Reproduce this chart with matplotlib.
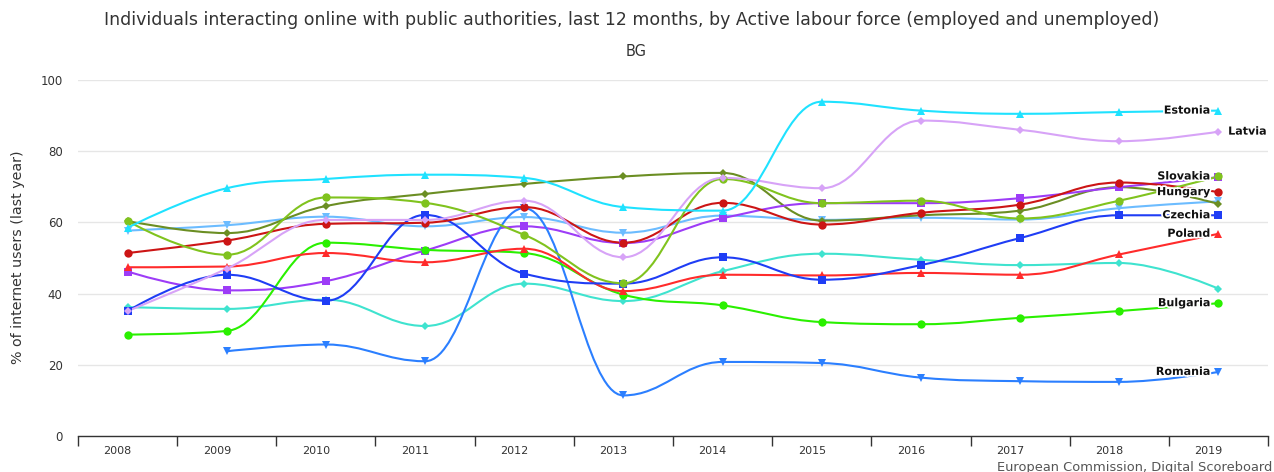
import matplotlib
matplotlib.use("Agg")
import matplotlib.pyplot as plt
import matplotlib.transforms as mtransforms
import matplotlib.patheffects as pe
from matplotlib.path import Path
from matplotlib.patches import PathPatch

# data (% of internet users)
years = ["2008", "2009", "2010", "2011", "2012", "2013", "2014", "2015", "2016", "2017", "2018", "2019"]

estonia = [58.5, 69.6, 72.2, 73.4, 72.5, 64.3, 63.3, 93.9, 91.4, 90.5, 91.0, 91.4]
latvia = [35.1, 47.0, 60.7, 60.7, 66.1, 50.2, 72.5, 69.6, 88.6, 86.0, 82.8, 85.5]
slovakia = [60.4, 50.9, 67.0, 65.5, 56.5, 42.9, 72.2, 65.4, 66.1, 61.1, 66.1, 72.9]
hungary = [51.4, 54.9, 59.6, 59.9, 64.3, 54.3, 65.5, 59.4, 62.7, 65.0, 71.2, 68.5]
czechia = [35.1, 45.3, 38.0, 62.1, 45.6, 42.8, 50.2, 43.9, 48.0, 55.6, 62.0, 62.0]
poland = [47.4, 47.6, 51.4, 48.8, 52.6, 40.7, 45.3, 45.1, 45.8, 45.3, 51.0, 56.8]
bulgaria = [28.5, 29.5, 54.3, 52.3, 51.4, 39.7, 36.7, 32.0, 31.4, 33.2, 35.1, 37.3]
romania = [None, 23.8, 25.7, 21.0, 64.0, 11.4, 20.8, 20.5, 16.4, 15.4, 15.2, 18.0]
# series without a visible label
purple_series = [46.2, 40.9, 43.5, 52.1, 58.9, 54.2, 61.2, 65.4, 65.4, 66.8, 69.9, 72.7]
olive_series = [60.4, 57.0, 64.6, 68.0, 70.8, 72.9, 73.9, 60.5, 62.0, 63.3, 69.9, 65.2]
lightblue_series = [57.7, 59.2, 61.6, 58.9, 61.5, 57.1, 61.9, 60.7, 61.3, 60.8, 64.0, 65.9]
turquoise_series = [36.2, 35.7, 38.3, 30.9, 42.8, 37.9, 46.3, 51.2, 49.5, 48.0, 48.6, 41.4]

# (values, colour, marker, marker size, label)
series = [
    (turquoise_series, "#3fe3cf", "D", 4.5, None),
    (lightblue_series, "#6cbcff", "v", 6, None),
    (olive_series, "#6b8e23", "D", 4.5, None),
    (purple_series, "#9d3cf7", "s", 5.5, None),
    (romania, "#2b7fff", "v", 6, "Romania"),
    (bulgaria, "#2af000", "o", 6, "Bulgaria"),
    (poland, "#ff2b2b", "^", 6, "Poland"),
    (czechia, "#1f3df5", "s", 5.5, "Czechia"),
    (hungary, "#cc1515", "o", 6, "Hungary"),
    (slovakia, "#80c31e", "o", 6, "Slovakia"),
    (latvia, "#d7a3f7", "D", 4.5, "Latvia"),
    (estonia, "#1fe2ff", "^", 6, "Estonia"),
]


def spline_path(xs, ys):
    # highcharts-like spline through the points
    pts = [(x, y) for x, y in zip(xs, ys) if y is not None]
    smoothing = 1.5
    denom = smoothing + 1
    right = {}
    verts = [pts[0]]
    codes = [Path.MOVETO]
    for i in range(1, len(pts)):
        px, py = pts[i]
        lx, ly = pts[i - 1]
        left_c = (px, py)
        if i < len(pts) - 1:
            nx, ny = pts[i + 1]
            lcx = (smoothing * px + lx) / denom
            lcy = (smoothing * py + ly) / denom
            rcx = (smoothing * px + nx) / denom
            rcy = (smoothing * py + ny) / denom
            corr = (rcy - lcy) * (rcx - px) / (rcx - lcx) + py - rcy
            lcy += corr
            rcy += corr
            if lcy > ly and lcy > py:
                lcy = max(ly, py)
                rcy = 2 * py - lcy
            elif lcy < ly and lcy < py:
                lcy = min(ly, py)
                rcy = 2 * py - lcy
            if rcy > ny and rcy > py:
                rcy = max(ny, py)
                lcy = 2 * py - rcy
            elif rcy < ny and rcy < py:
                rcy = min(ny, py)
                lcy = 2 * py - rcy
            right[i] = (rcx, rcy)
            left_c = (lcx, lcy)
        verts += [right.get(i - 1, (lx, ly)), left_c, (px, py)]
        codes += [Path.CURVE4] * 3
    return Path(verts, codes)


fig = plt.figure(figsize=(12.74, 4.72), dpi=100)
ax = fig.add_axes([78 / 1274, 36 / 472, 1190 / 1274, 356 / 472])

x = list(range(len(years)))
for vals, color, marker, ms, label in series:
    ax.add_patch(PathPatch(spline_path(x, vals), fill=False, edgecolor=color, lw=1.5, zorder=2))
    xs = [xi for xi, v in zip(x, vals) if v is not None]
    vs = [v for v in vals if v is not None]
    ax.plot(xs, vs, linestyle="none", marker=marker, markersize=ms, color=color,
            markeredgewidth=0, zorder=3)
    if label:
        if label == "Latvia":
            off, ha = (7, 0), "left"
        else:
            off, ha = (-6, 0), "right"
        ax.annotate(label, (x[-1], vs[-1]), xytext=off, textcoords="offset points",
                    ha=ha, va="center", fontsize=8, fontweight="bold", color="#111111",
                    path_effects=[pe.withStroke(linewidth=2.5, foreground="white")], zorder=5)

ax.set_xlim(-0.5, len(years) - 0.5)
ax.set_ylim(0, 100)

ax.set_yticks([0, 20, 40, 60, 80, 100])
ax.grid(axis="y", color="#e6e6e6", lw=1)
ax.set_axisbelow(True)
ax.tick_params(axis="y", length=0, pad=11, labelsize=8.5, labelcolor="#333333")

ax.set_xticks(x)
ax.set_xticklabels(years)
ax.set_xticks([i - 0.5 for i in range(len(years) + 1)], minor=True)
ax.tick_params(axis="x", which="major", length=0, pad=7, labelsize=8, labelcolor="#333333")
ax.tick_params(axis="x", which="minor", length=7, width=1, color="#333333")
shift = mtransforms.ScaledTranslation(-10 / 100, 0, fig.dpi_scale_trans)
for lbl in ax.get_xticklabels():
    lbl.set_transform(lbl.get_transform() + shift)

for side in ["top", "right", "left"]:
    ax.spines[side].set_visible(False)
ax.spines["bottom"].set_color("#333333")
ax.spines["bottom"].set_linewidth(1)

fig.text(18 / 1274, 1 - 257 / 472, "% of internet users (last year)", rotation=90,
         ha="center", va="center", fontsize=10.3, color="#333333")
fig.text(632 / 1274, 1 - 20 / 472,
         "Individuals interacting online with public authorities, last 12 months, by Active labour force (employed and unemployed)",
         ha="center", va="center", fontsize=12.5, color="#333333")
fig.text(636 / 1274, 1 - 52 / 472, "BG", ha="center", va="center", fontsize=10.5, color="#333333")
fig.text(1272 / 1274, 1 - 467 / 472, "European Commission, Digital Scoreboard",
         ha="right", va="center", fontsize=9.4, color="#555555")

fig.savefig("out.png", dpi=100)
